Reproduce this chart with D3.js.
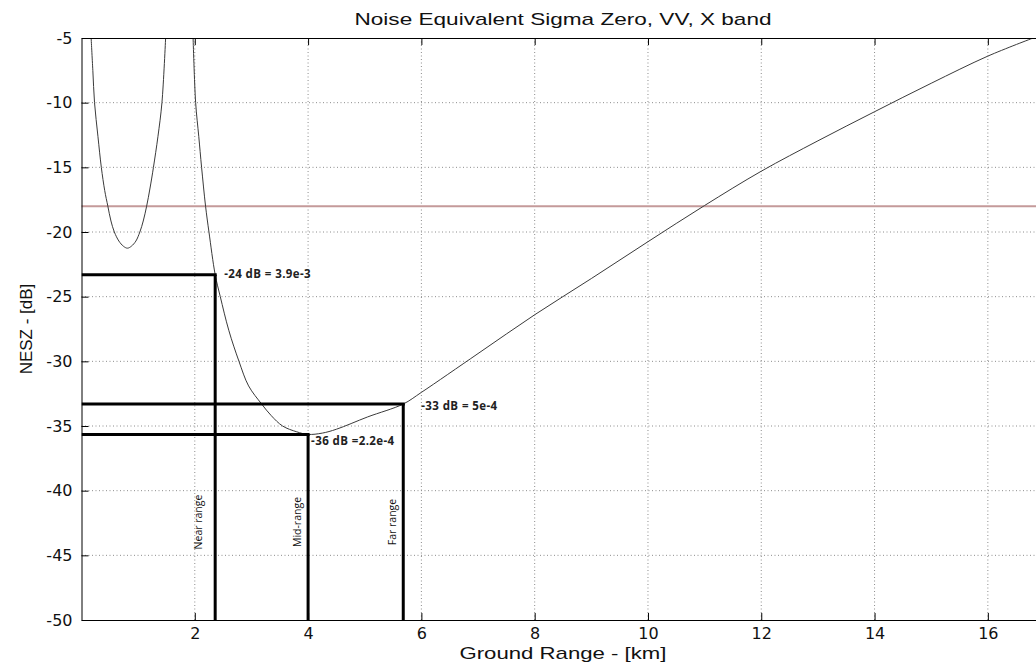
<!DOCTYPE html>
<html>
<head>
<meta charset="utf-8">
<script src="https://cdn.jsdelivr.net/npm/d3@7"></script>
<style>
  body { margin: 0; background: #fff; }
  svg { display: block; }
  .grid line { stroke: #8c8c8c; stroke-width: 1; stroke-dasharray: 1,2.5; }
  .axis path, .axis line { stroke: #000; stroke-width: 1; }
  .axis text { font-family: "DejaVu Sans", sans-serif; font-size: 16px; fill: #111; }
  .curve { fill: none; stroke: #3a3a3a; stroke-width: 1; }
  .threshold { stroke: #c49a9a; stroke-width: 2; }
  .marker { stroke: #000; stroke-width: 3; fill: none; }
  .note { font-family: "Open Sans", sans-serif; font-weight: bold; font-size: 11.5px; letter-spacing: 0.4px; fill: #222; }
  .name { font-family: "Open Sans", sans-serif; font-size: 10.5px; fill: #111; }
  .label { font-family: "Liberation Sans", Arial, sans-serif; font-size: 17px; fill: #111; }
</style>
</head>
<body>
<script>
var w = 1036;
var h = 667;

var titleText = "Noise Equivalent Sigma Zero, VV, X band";
var xLabel = "Ground Range - [km]";
var yLabel = "NESZ - [dB]";

// left lobe of the curve (km, dB)
var lobeKm = [0.17, 0.20, 0.23, 0.29, 0.35, 0.41, 0.465, 0.52, 0.58, 0.66, 0.74, 0.81, 0.88, 0.96, 1.03, 1.09, 1.15, 1.21, 1.27, 1.35, 1.42, 1.485];
var lobeDb = [-5, -7.5, -10, -12.6, -15, -16.8, -18, -19.15, -20, -20.7, -21.1, -21.25, -21.1, -20.7, -20, -19.15, -18, -16.6, -15, -12.6, -10, -5];

// main branch of the curve (km, dB)
var mainKm = [1.97, 2.015, 2.07, 2.12, 2.19, 2.25, 2.36, 2.45, 2.6, 2.78, 2.95, 3.18, 3.35, 3.55, 3.8, 4.0, 4.25, 4.5, 5.05, 5.68, 6, 7, 8, 9, 10, 11, 12, 13, 14, 15, 16, 16.8];
var mainDb = [-5, -10, -12.6, -15, -18, -20, -23.3, -25, -27.6, -30, -31.9, -33.3, -34.2, -35.0, -35.45, -35.65, -35.55, -35.25, -34.3, -33.3, -32.4, -29.4, -26.4, -23.6, -20.75, -17.95, -15.3, -12.95, -10.7, -8.5, -6.4, -5];

var thresholdDb = -18;

var markerNames = ["Near range", "Mid-range", "Far range"];
var markerKm = [2.36, 4.0, 5.68];
var markerDb = [-23.3, -35.65, -33.3];
var markerNotes = ["-24 dB = 3.9e-3", "-36 dB =2.2e-4", "-33 dB = 5e-4"];

var xTicks = [2, 4, 6, 8, 10, 12, 14, 16];
var yTicks = [-50, -45, -40, -35, -30, -25, -20, -15, -10, -5];

var xDomain = [0, 17];
var yDomain = [-50, -5];

var mLeft = 81.5, mRight = 1044.5, mTop = 38, mBottom = 620;

var xScale = d3.scaleLinear().domain(xDomain).range([mLeft, mRight]);
var yScale = d3.scaleLinear().domain(yDomain).range([mBottom, mTop]);

var svg = d3.select("body")
            .append("svg")
            .attr("width", w)
            .attr("height", h);

svg.append("rect").attr("width", w).attr("height", h).attr("fill", "#fff");

svg.append("clipPath")
   .attr("id", "plotClip")
   .append("rect")
   .attr("x", mLeft).attr("y", mTop)
   .attr("width", mRight - mLeft).attr("height", mBottom - mTop);

// Grid
var grid = svg.append("g").attr("class", "grid");
grid.selectAll("vGrid")
    .data(xTicks)
    .enter()
    .append("line")
    .attr("x1", function(d) { return xScale(d); })
    .attr("x2", function(d) { return xScale(d); })
    .attr("y1", mTop)
    .attr("y2", mBottom);
grid.selectAll("hGrid")
    .data(yTicks.filter(function(d) { return d > yDomain[0] && d < yDomain[1]; }))
    .enter()
    .append("line")
    .attr("x1", mLeft)
    .attr("x2", mRight)
    .attr("y1", function(d) { return yScale(d); })
    .attr("y2", function(d) { return yScale(d); });

// Threshold line
svg.append("line")
   .attr("class", "threshold")
   .attr("x1", mLeft)
   .attr("x2", mRight)
   .attr("y1", yScale(thresholdDb))
   .attr("y2", yScale(thresholdDb));

// Curve
var line = d3.line()
             .x(function(d) { return xScale(d[0]); })
             .y(function(d) { return yScale(d[1]); })
             .curve(d3.curveCatmullRom.alpha(0.5));

var plot = svg.append("g").attr("clip-path", "url(#plotClip)");

[[lobeKm, lobeDb], [mainKm, mainDb]].forEach(function(s) {
  plot.append("path")
      .datum(d3.zip(s[0], s[1]))
      .attr("class", "curve")
      .attr("d", line);
});

// Range markers
var markers = d3.zip(markerKm, markerDb, markerNames, markerNotes);

plot.selectAll("markerH")
    .data(markers)
    .enter()
    .append("line")
    .attr("class", "marker")
    .attr("x1", xScale(xDomain[0]))
    .attr("x2", function(d) { return xScale(d[0]) + 1.5; })
    .attr("y1", function(d) { return yScale(d[1]); })
    .attr("y2", function(d) { return yScale(d[1]); });

plot.selectAll("markerV")
    .data(markers)
    .enter()
    .append("line")
    .attr("class", "marker")
    .attr("x1", function(d) { return xScale(d[0]); })
    .attr("x2", function(d) { return xScale(d[0]); })
    .attr("y1", function(d) { return yScale(d[1]); })
    .attr("y2", yScale(yDomain[0]));

// label offsets (px) for the marker names and notes
var nameDx = [-13, -7, -7];
var noteDx = [9, 3, 18];
var noteDy = [3, 11, 6];

svg.selectAll("markerName")
   .data(markers)
   .enter()
   .append("text")
   .attr("class", "name")
   .attr("text-anchor", "middle")
   .attr("transform", function(d, i) {
     return "translate(" + (xScale(d[0]) + nameDx[i]) + "," + 522 + ") rotate(-90)";
   })
   .text(function(d) { return d[2]; });

svg.selectAll("markerNote")
   .data(markers)
   .enter()
   .append("text")
   .attr("class", "note")
   .attr("x", function(d, i) { return xScale(d[0]) + noteDx[i]; })
   .attr("y", function(d, i) { return yScale(d[1]) + noteDy[i]; })
   .text(function(d) { return d[3]; });

// Axes
var xAxis = d3.axisBottom(xScale).tickValues(xTicks).tickSize(-7).tickPadding(8).tickFormat(d3.format("d"));
var xAxisTop = d3.axisTop(xScale).tickValues(xTicks).tickSize(-7).tickFormat("");
var yAxis = d3.axisLeft(yScale).tickValues(yTicks).tickSize(-7).tickPadding(9).tickFormat(d3.format("d"));
var yAxisRight = d3.axisRight(yScale).tickValues(yTicks).tickSize(-7).tickFormat("");

svg.append("g").attr("class", "axis")
   .attr("transform", "translate(0," + mBottom + ")")
   .call(xAxis.tickSizeOuter(0));
svg.append("g").attr("class", "axis")
   .attr("transform", "translate(0," + mTop + ")")
   .call(xAxisTop.tickSizeOuter(0));
svg.append("g").attr("class", "axis")
   .attr("transform", "translate(" + mLeft + ",0)")
   .call(yAxis.tickSizeOuter(0));
svg.append("g").attr("class", "axis")
   .attr("transform", "translate(" + mRight + ",0)")
   .call(yAxisRight.tickSizeOuter(0));

svg.selectAll(".axis text").text(function() { return this.textContent.replace("\u2212", "-"); });

// Titles
svg.append("text")
   .attr("class", "label")
   .attr("x", (mLeft + mRight) / 2)
   .attr("y", 25)
   .attr("text-anchor", "middle")
   .attr("textLength", 417)
   .attr("lengthAdjust", "spacingAndGlyphs")
   .text(titleText);

svg.append("text")
   .attr("class", "label")
   .attr("x", (mLeft + mRight) / 2)
   .attr("y", 659)
   .attr("text-anchor", "middle")
   .attr("textLength", 207)
   .attr("lengthAdjust", "spacingAndGlyphs")
   .text(xLabel);

svg.append("text")
   .attr("class", "label")
   .attr("transform", "translate(32," + (mTop + mBottom) / 2 + ") rotate(-90)")
   .attr("text-anchor", "middle")
   .text(yLabel);
</script>
</body>
</html>
